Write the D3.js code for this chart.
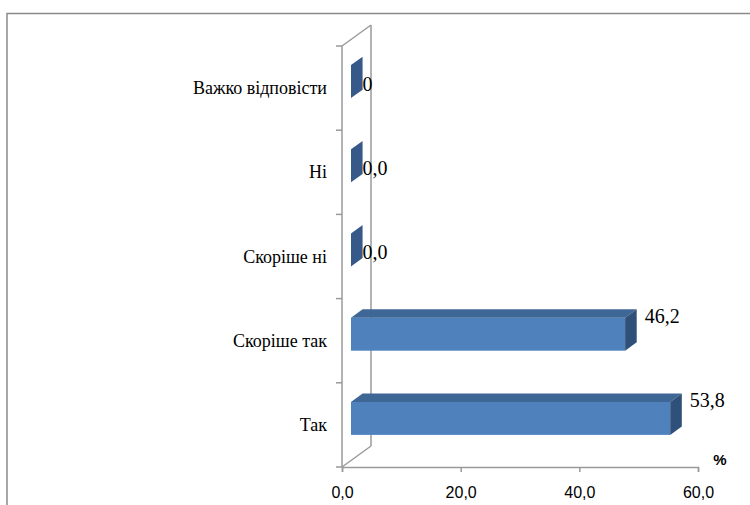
<!DOCTYPE html>
<html><head><meta charset="utf-8">
<script src="https://cdn.jsdelivr.net/npm/d3@7"></script>
<style>html,body{margin:0;padding:0;background:#fff;overflow:hidden}</style>
</head><body>
<svg id="c" width="750" height="505"></svg>
<script>
// Data (bottom to top)
const categories = ["Так", "Скоріше так", "Скоріше ні", "Ні", "Важко відповісти"];
const values = [53.8, 46.2, 0, 0, 0];
const valueLabels = ["53,8", "46,2", "0,0", "0,0", "0"];
const tickValues = [0, 20, 40, 60];
const tickLabels = ["0,0", "20,0", "40,0", "60,0"];
const unitLabel = "%";

const serif = "'Liberation Serif', 'Times New Roman', serif";
const sans = "'Liberation Sans', Arial, sans-serif";

const svg = d3.select("#c");
// outer frame
svg.append("rect").attr("x", 7).attr("y", 13.5).attr("width", 760).attr("height", 510)
  .attr("fill", "none").attr("stroke", "#8a8a8a").attr("stroke-width", 1.5);

const x = d3.scaleLinear().domain([0, 60]).range([342, 698]);
const y = d3.scaleBand().domain(categories).range([467, 46]);
const depth = {dx: 29, dy: -21};
const f0 = 0.31, f1 = 0.71; // bar depth position fractions
const barH = 33;
const axisColor = "#9a9a9a";

const g = svg.append("g");
// 3D wall lines
const x0 = x(0), yBot = 467, yTop = 46;
g.append("line").attr("x1", x0).attr("y1", yTop).attr("x2", x0).attr("y2", yBot);
g.append("line").attr("x1", x0 + depth.dx).attr("y1", yTop + depth.dy).attr("x2", x0 + depth.dx).attr("y2", yBot + depth.dy);
g.append("line").attr("x1", x0).attr("y1", yTop).attr("x2", x0 + depth.dx).attr("y2", yTop + depth.dy);
g.append("line").attr("x1", x0).attr("y1", yBot).attr("x2", x0 + depth.dx).attr("y2", yBot + depth.dy);
g.selectAll("line").attr("stroke", axisColor).attr("stroke-width", 1.5);

// x axis (front)
const xAxis = d3.axisBottom(x).tickValues(tickValues).tickSize(5)
  .tickFormat((d, i) => tickLabels[i]);
const xa = svg.append("g").attr("transform", `translate(0,${yBot})`).call(xAxis);
xa.select(".domain").attr("stroke", axisColor).attr("stroke-width", 1.5);
xa.selectAll(".tick line").attr("stroke", axisColor).attr("stroke-width", 1.5);
xa.selectAll(".tick text").attr("dy", 0).attr("y", 31)
  .style("font-family", sans)
  .style("font-size", "16px").attr("fill", "#000");

// y axis (category ticks at band boundaries)
const bounds = categories.map(c => y(c)).concat([yBot]);
svg.selectAll(".ytick").data(bounds).enter().append("line")
  .attr("x1", x0 - 6).attr("x2", x0).attr("y1", d => d).attr("y2", d => d)
  .attr("stroke", axisColor).attr("stroke-width", 1.5);
svg.selectAll(".ylab").data(categories).enter().append("text")
  .attr("x", 327).attr("y", d => y(d) + y.bandwidth() / 2)
  .attr("text-anchor", "end").attr("dominant-baseline", "central")
  .style("font-family", serif)
  .style("font-size", "18px").attr("fill", "#000").text(d => d);

// bars
const data = categories.map((c, i) => ({c, v: values[i], lab: valueLabels[i]}));
const bars = svg.selectAll(".bar").data(data).enter().append("g");
function geom(d) {
  const fx = depth.dx * f0, fy = depth.dy * f0;
  const bx = depth.dx * f1, by = depth.dy * f1;
  const cy = y(d.c) + y.bandwidth() / 2 + fy;
  const left = x(0) + fx, right = x(d.v) + fx;
  const top = cy - barH / 2, bot = cy + barH / 2;
  const ddx = bx - fx, ddy = by - fy;
  return {left, right, top, bot, cy, ddx, ddy};
}
bars.append("rect")
  .attr("x", d => geom(d).left).attr("y", d => geom(d).top)
  .attr("width", d => geom(d).right - geom(d).left).attr("height", barH)
  .attr("fill", "#4f81bd");
bars.append("polygon").attr("points", d => {
  const g = geom(d);
  return [[g.left, g.top], [g.right, g.top], [g.right + g.ddx, g.top + g.ddy], [g.left + g.ddx, g.top + g.ddy]].join(" ");
}).attr("fill", "#3e6796");
bars.append("polygon").attr("points", d => {
  const g = geom(d);
  return [[g.right, g.top], [g.right + g.ddx, g.top + g.ddy], [g.right + g.ddx, g.bot + g.ddy], [g.right, g.bot]].join(" ");
}).attr("fill", d => d.v > 0 ? "#2f5078" : "#37598a");
bars.append("text")
  .attr("x", d => geom(d).right + geom(d).ddx + (d.v > 0 ? 8 : 0))
  .attr("y", d => geom(d).cy + (d.v > 0 ? -18 : 2))
  .attr("dominant-baseline", "central")
  .style("font-family", serif)
  .style("font-size", "20px").attr("fill", "#000").text(d => d.lab);

svg.append("text").attr("x", 720).attr("y", 459).attr("text-anchor", "middle")
  .attr("dominant-baseline", "central")
  .style("font-family", sans)
  .style("font-size", "15px").style("font-weight", "bold").text(unitLabel);
</script>
</body></html>
